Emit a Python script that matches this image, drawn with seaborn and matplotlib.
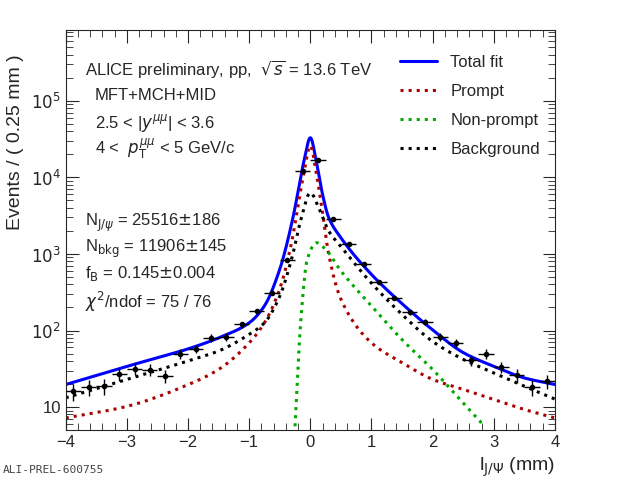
import numpy as np
import pandas as pd
import seaborn as sns
import matplotlib
matplotlib.use("Agg")
import matplotlib.pyplot as plt
from matplotlib.ticker import LogLocator, FixedLocator, MultipleLocator, NullFormatter

# data points (bin centres, counts)
x_data = [-3.875 + 0.25 * k for k in range(32)]
y_data = [16.1, 18.4, 18.7, 27.4, 31.8, 30.9, 25.8, 50, 58, 80, 83, 120, 179, 310, 830,
          12000, 17000, 2830, 1370, 745, 428, 267, 173, 129, 83, 69, 41, 50, 33.5, 26, 18.2, 21.7]

# fit curves read at knots
tot_x = [-4, -3, -2, -1.5, -1, -0.75, -0.5, -0.3, -0.2, -0.1, 0, 0.1, 0.2, 0.3, 0.5, 1, 1.5, 2, 2.5, 3, 3.5, 4]
tot_y = [19.7, 34, 57.5, 80, 126, 210, 630, 2600, 6500, 17000, 33000, 16000, 6000, 3000, 1630, 540, 224, 102, 51.5, 34, 24, 19.7]
bkg_x = [-4, -3, -2, -1.5, -1, -0.75, -0.5, -0.3, -0.15, 0, 0.15, 0.3, 0.5, 1, 1.5, 2, 2.5, 3, 3.5, 4]
bkg_y = [13.2, 23, 40, 54, 89, 126, 280, 900, 2900, 6300, 3800, 2000, 1250, 415, 162, 72, 42, 28, 18.7, 12.7]
pr_x = [-4, -3, -2, -1.5, -1, -0.75, -0.5, -0.3, -0.2, -0.1, 0, 0.1, 0.2, 0.3, 0.5, 1, 1.5, 2, 2.5, 3, 3.5, 4]
pr_y = [7.2, 10.2, 19.6, 31, 69, 126, 350, 1500, 4300, 12000, 26000, 11000, 3500, 1000, 257, 69, 38, 23, 17, 12.6, 9.3, 7.2]
np_x = [-0.25, -0.15, -0.05, 0.1, 0.25, 0.5, 1, 1.5, 2, 2.5, 2.85]
np_y = [5.6, 155, 850, 1400, 1150, 600, 210, 76, 31, 11.3, 5.6]


def pchip(xs, ys, xx):
    xs = np.asarray(xs, float); ys = np.asarray(ys, float)
    h = np.diff(xs); d = np.diff(ys) / h
    m = np.zeros_like(ys)
    for k in range(1, len(xs) - 1):
        if d[k - 1] * d[k] > 0:
            w1 = 2 * h[k] + h[k - 1]; w2 = h[k] + 2 * h[k - 1]
            m[k] = (w1 + w2) / (w1 / d[k - 1] + w2 / d[k])
    m[0] = d[0]; m[-1] = d[-1]
    i = np.clip(np.searchsorted(xs, xx) - 1, 0, len(xs) - 2)
    t = (xx - xs[i]) / h[i]
    h00 = 2 * t**3 - 3 * t**2 + 1; h10 = t**3 - 2 * t**2 + t
    h01 = -2 * t**3 + 3 * t**2; h11 = t**3 - t**2
    return h00 * ys[i] + h10 * h[i] * m[i] + h01 * ys[i + 1] + h11 * h[i] * m[i + 1]


def smooth(xs, ys):
    xx = np.linspace(xs[0], xs[-1], 800)
    return xx, 10 ** pchip(xs, np.log10(ys), xx)


sns.set_style("ticks")
plt.rcParams['font.family'] = ['Liberation Sans', 'DejaVu Sans']
fig = plt.figure(figsize=(6.2, 4.8), dpi=100)
ax = fig.add_axes([0.106, 0.104, 0.789, 0.834])

for xs, ys, c, ls, lab in [(tot_x, tot_y, '#0000ff', '-', 'Total fit'),
                           (pr_x, pr_y, '#aa0000', ':', 'Prompt'),
                           (np_x, np_y, '#00aa00', ':', 'Non-prompt'),
                           (bkg_x, bkg_y, 'black', ':', 'Background')]:
    xx, yy = smooth(xs, ys)
    sns.lineplot(x=xx, y=yy, ax=ax, color=c, lw=2.2, linestyle=ls, label=lab)

ax.errorbar(x_data, y_data, xerr=0.125, yerr=np.sqrt(y_data), fmt='o', color='black',
            ms=3, elinewidth=1, capsize=0, zorder=5)

ax.set_yscale('log')
ax.set_xlim(-4, 4)
ax.set_ylim(5, 8.5e5)
ax.xaxis.set_major_locator(MultipleLocator(1))
ax.xaxis.set_minor_locator(MultipleLocator(0.2))
ax.yaxis.set_major_locator(FixedLocator([10, 1e2, 1e3, 1e4, 1e5]))
ax.yaxis.set_minor_locator(LogLocator(base=10, subs=np.arange(2, 10)))
ax.yaxis.set_minor_formatter(NullFormatter())
ax.tick_params(which='both', direction='in', top=True, right=True, labelsize=12)
ax.tick_params(which='major', length=9)
ax.tick_params(which='minor', length=5)
ax.set_yticklabels(['10', r'$10^2$', r'$10^3$', r'$10^4$', r'$10^5$'])
ax.set_ylabel('Events / ( 0.25 mm )', fontsize=14)
ax.yaxis.set_label_coords(-0.085, 0.72)
ax.set_xlabel(r'l$_{\mathrm{J}/\Psi}$ (mm)', fontsize=14, loc='right')

leg = ax.legend(loc='upper right', frameon=False, fontsize=12, handlelength=2.2,
                labelspacing=0.85, bbox_to_anchor=(1.0, 0.975))

t = ax.transAxes
ax.text(0.04, 0.93, r'ALICE preliminary, pp,  $\sqrt{s}$ = 13.6 TeV', transform=t, fontsize=12, va='top')
ax.text(0.06, 0.855, 'MFT+MCH+MID', transform=t, fontsize=12, va='top')
ax.text(0.06, 0.795, r'2.5 < |$y^{\mu\mu}$| < 3.6', transform=t, fontsize=12, va='top')
ax.text(0.06, 0.735, r'4 <  $p_{\mathrm{T}}^{\mu\mu}$ < 5 GeV/c', transform=t, fontsize=12, va='top')
ax.text(0.04, 0.545, r'N$_{\mathrm{J}/\psi}$ = 25516$\pm$186', transform=t, fontsize=12, va='top')
ax.text(0.04, 0.48, r'N$_{\mathrm{bkg}}$ = 11906$\pm$145', transform=t, fontsize=12, va='top')
ax.text(0.04, 0.415, r'f$_{\mathrm{B}}$ = 0.145$\pm$0.004', transform=t, fontsize=12, va='top')
ax.text(0.04, 0.35, r'$\chi^2$/ndof = 75 / 76', transform=t, fontsize=12, va='top')
fig.text(0.005, 0.015, 'ALI-PREL-600755', fontsize=8, family='DejaVu Sans Mono', color='#444444')

fig.savefig('out.png', dpi=100)
